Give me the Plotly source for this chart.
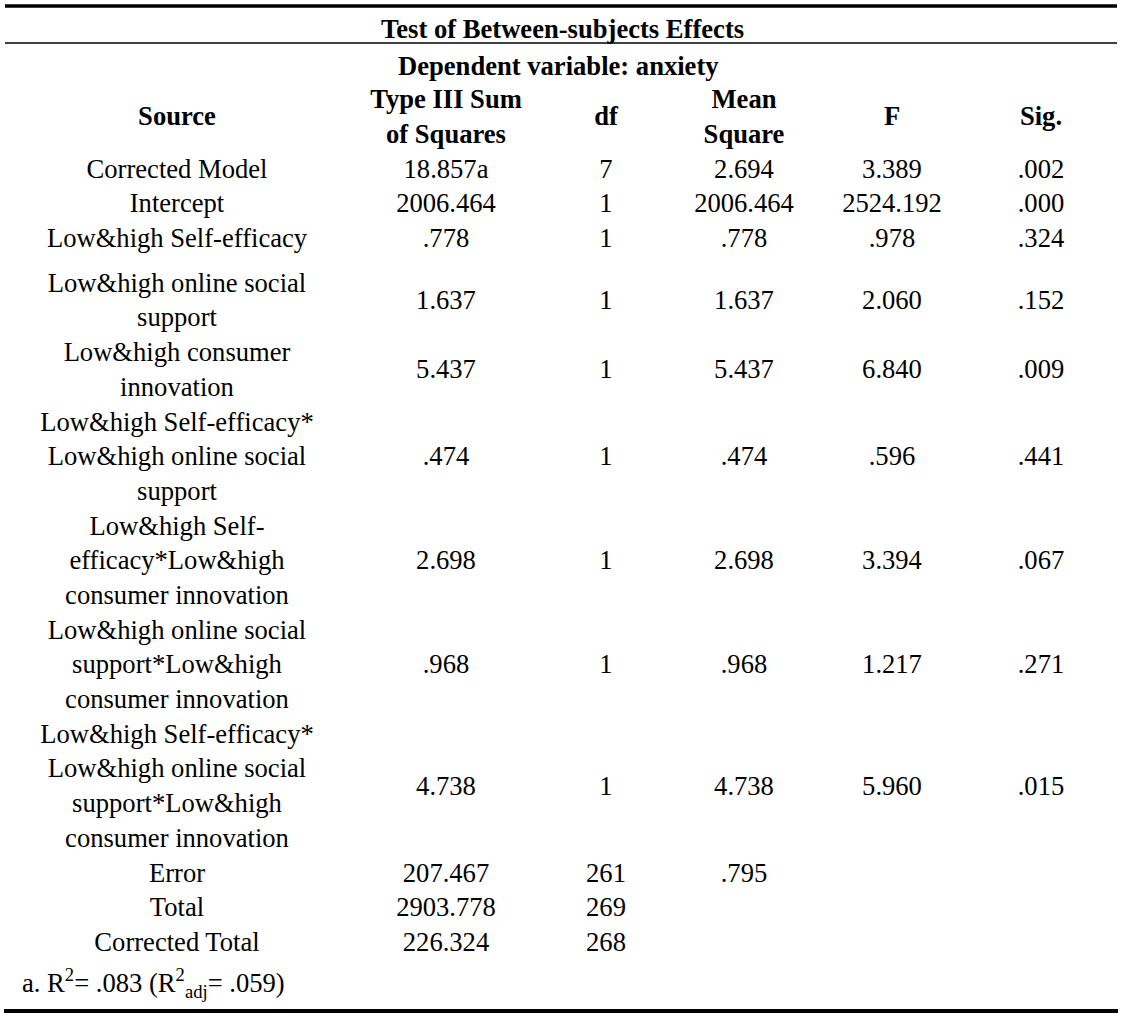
import plotly.graph_objects as go

# ---------------- data ----------------
title = "Test of Between-subjects Effects"
subtitle = "Dependent variable: anxiety"
headers = ["Source", "Type III Sum<br>of Squares", "df", "Mean<br>Square", "F", "Sig."]

sources = [
    "Corrected Model",
    "Intercept",
    "Low&high Self-efficacy",
    "Low&high online social<br>support",
    "Low&high consumer<br>innovation",
    "Low&high Self-efficacy*<br>Low&high online social<br>support",
    "Low&high Self-<br>efficacy*Low&high<br>consumer innovation",
    "Low&high online social<br>support*Low&high<br>consumer innovation",
    "Low&high Self-efficacy*<br>Low&high online social<br>support*Low&high<br>consumer innovation",
    "Error",
    "Total",
    "Corrected Total",
]
sum_sq = ["18.857a", "2006.464", ".778", "1.637", "5.437", ".474", "2.698", ".968", "4.738",
          "207.467", "2903.778", "226.324"]
dfs = ["7", "1", "1", "1", "1", "1", "1", "1", "1", "261", "269", "268"]
mean_sq = ["2.694", "2006.464", ".778", "1.637", "5.437", ".474", "2.698", ".968", "4.738",
           ".795", "", ""]
f_vals = ["3.389", "2524.192", ".978", "2.060", "6.840", ".596", "3.394", "1.217", "5.960",
          "", "", ""]
sig_vals = [".002", ".000", ".324", ".152", ".009", ".441", ".067", ".271", ".015",
            "", "", ""]
footnote = "a. R<sup>2</sup>= .083 (R<sup>2</sup><sub>adj</sub>= .059)"

# ---------------- layout ----------------
W, H = 1129, 1019
FONT = "Liberation Serif, Times New Roman, serif"
FS = 26.6
LINE_H = 34.7
col_x = [177, 446, 606, 744, 892, 1041]

# compute row centres from line counts
top = 101.5 - LINE_H / 2
header_y = top + 2 * LINE_H / 2
top += 2 * LINE_H
row_y = []
for i, s in enumerate(sources):
    n = s.count("<br>") + 1
    row_y.append(top + n * LINE_H / 2)
    top += n * LINE_H
    if i == 2:
        top += 10

fig = go.Figure()

columns = [sources, sum_sq, dfs, mean_sq, f_vals, sig_vals]
for cx, hdr, vals in zip(col_x, headers, columns):
    ys = [header_y] + [y for y, v in zip(row_y, vals) if v]
    txt = ["<b>" + hdr + "</b>"] + [v for v in vals if v]
    fig.add_trace(go.Scatter(
        x=[cx] * len(ys),
        y=ys,
        text=txt,
        mode="text",
        textposition="middle center",
        textfont=dict(family=FONT, size=FS, color="black"),
        hoverinfo="skip",
        showlegend=False,
    ))

fig.add_annotation(x=562, y=29, text="<b>" + title + "</b>", showarrow=False,
                   xref="x", yref="y", font=dict(family=FONT, size=FS, color="black"))
fig.add_annotation(x=558, y=66, text="<b>" + subtitle + "</b>", showarrow=False,
                   xref="x", yref="y", font=dict(family=FONT, size=FS, color="black"))
fig.add_annotation(x=20, y=983, text=footnote, showarrow=False, xanchor="left",
                   xref="x", yref="y", font=dict(family=FONT, size=FS, color="black"))

fig.add_shape(type="line", x0=5, x1=1117, y0=6, y1=6, line=dict(color="black", width=3.5))
fig.add_shape(type="line", x0=5, x1=1117, y0=43, y1=43, line=dict(color="black", width=1.5))
fig.add_shape(type="line", x0=4, x1=1118, y0=1011, y1=1011, line=dict(color="black", width=4))

fig.update_layout(
    width=W, height=H,
    margin=dict(l=0, r=0, t=0, b=0),
    paper_bgcolor="white", plot_bgcolor="white",
    xaxis=dict(range=[0, W], visible=False, fixedrange=True),
    yaxis=dict(range=[H, 0], visible=False, fixedrange=True),
)

fig.write_html("out.html", config={"displayModeBar": False},
               post_script="document.body.style.margin='0';document.body.style.overflow='hidden';")
